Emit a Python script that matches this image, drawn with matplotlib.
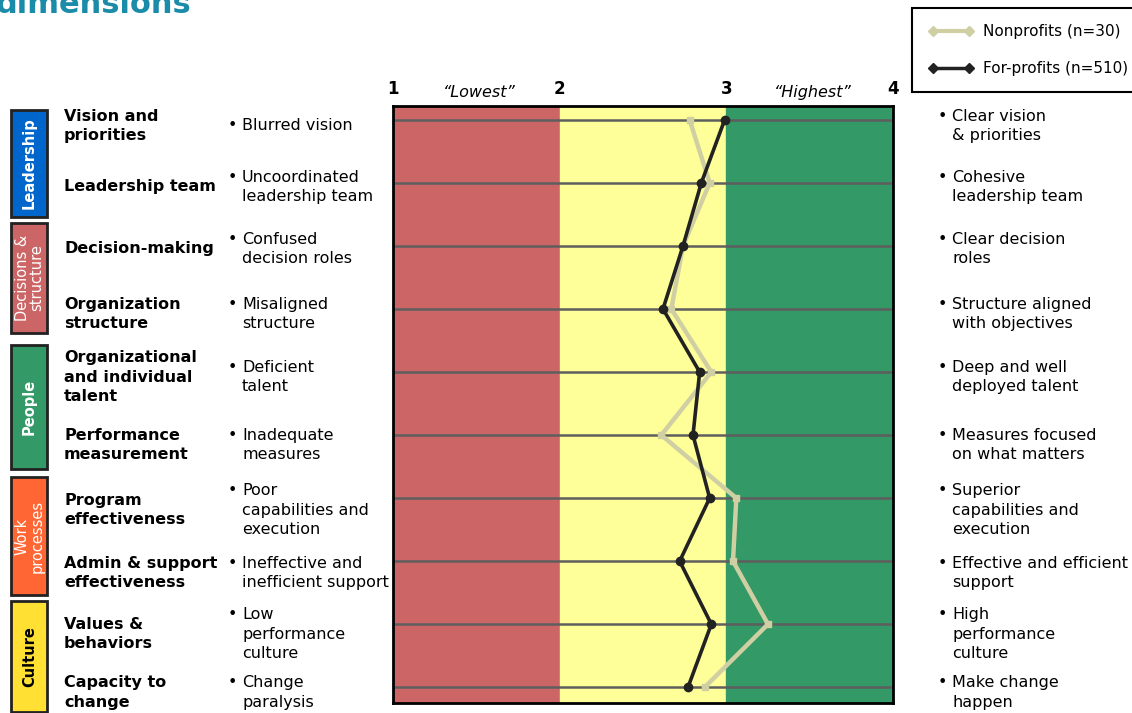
import matplotlib.pyplot as plt
from matplotlib.lines import Line2D
from matplotlib.patches import Rectangle
from matplotlib.transforms import blended_transform_factory

W, H = 1132, 713

dimensions = ["Vision and\npriorities", "Leadership team", "Decision-making",
              "Organization\nstructure", "Organizational\nand individual\ntalent",
              "Performance\nmeasurement", "Program\neffectiveness",
              "Admin & support\neffectiveness", "Values &\nbehaviors", "Capacity to\nchange"]
lowest = ["Blurred vision", "Uncoordinated\nleadership team", "Confused\ndecision roles",
          "Misaligned\nstructure", "Deficient\ntalent", "Inadequate\nmeasures",
          "Poor\ncapabilities and\nexecution", "Ineffective and\ninefficient support",
          "Low\nperformance\nculture", "Change\nparalysis"]
highest = ["Clear vision\n& priorities", "Cohesive\nleadership team", "Clear decision\nroles",
           "Structure aligned\nwith objectives", "Deep and well\ndeployed talent",
           "Measures focused\non what matters", "Superior\ncapabilities and\nexecution",
           "Effective and efficient\nsupport", "High\nperformance\nculture", "Make change\nhappen"]

nonprofits = [2.78, 2.90, 2.74, 2.67, 2.91, 2.61, 3.06, 3.04, 3.25, 2.87]
forprofits = [2.99, 2.85, 2.74, 2.62, 2.84, 2.80, 2.90, 2.72, 2.91, 2.77]

groups = ["Leadership", "Decisions &\nstructure", "People", "Work\nprocesses", "Culture"]
group_colors = ["#0066CC", "#CC6666", "#339966", "#FF6633", "#FFE033"]
group_text = ["white", "white", "white", "white", "black"]
# pixel spans (top, bottom) of the group boxes on the left
group_spans = [(110, 217), (223, 333), (345, 469), (477, 595), (601, 712)]
# text rows sit a few pixels below their grid lines
text_shift = [6, 4, 3, 5, 5, 10, 12, 12, 10, 5]

plt.rcParams['font.family'] = ['DejaVu Sans']
fig = plt.figure(figsize=(W / 100, H / 100), dpi=100)
ax = fig.add_axes([393 / W, 1 - 703 / H, 500 / W, 597 / H])

rows = list(range(len(dimensions)))
px = 1 / 63  # one pixel in row units

ax.axvspan(1, 2, color="#CC6666", zorder=0)
ax.axvspan(2, 3, color="#FFFF99", zorder=0)
ax.axvspan(3, 4, color="#339966", zorder=0)
ax.hlines(rows, 1, 4, color="#5e5e5e", lw=1.8, zorder=1)

ax.plot(nonprofits, rows, color="#CFCFA3", lw=3.2, marker="s", ms=4, zorder=2)
ax.plot(forprofits, rows, color="#222222", lw=2.6, marker="o", ms=6, zorder=3)

ax.set_xlim(1, 4)
ax.set_ylim(9.25, -0.22)
ax.set_yticks([])
ax.set_xticks([1, 2, 3, 4])
ax.xaxis.tick_top()
ax.tick_params(axis="x", length=0, pad=6, labelsize=12)
for lbl in ax.get_xticklabels():
    lbl.set_fontweight("bold")
for s in ax.spines.values():
    s.set_linewidth(2)
    s.set_color("black")

top_tr = blended_transform_factory(ax.transData, ax.transAxes)
ax.text(1.52, 1.01, "\u201cLowest\u201d", style="italic", fontsize=11.5, ha="center", va="bottom",
        transform=top_tr)
ax.text(3.52, 1.01, "\u201cHighest\u201d", style="italic", fontsize=11.5, ha="center", va="bottom",
        transform=top_tr)

LS = 1.38


def bulleted(x, y, s):
    n = s.count("\n")
    ax.text(x / W, y, "\u2022" + "\n " * n, transform=tr, fontsize=11.5, va="center",
            linespacing=LS)
    ax.text((x + 14) / W, y, s, transform=tr, fontsize=11.5, va="center", linespacing=LS)


tr = blended_transform_factory(fig.transFigure, ax.transData)
for i in rows:
    y = i + text_shift[i] * px
    ax.text(64 / W, y, dimensions[i], transform=tr, fontsize=11.5, fontweight="bold",
            va="center", linespacing=LS)
    bulleted(228, y, lowest[i])
    bulleted(938, y, highest[i])

for name, color, tc, (top, bot) in zip(groups, group_colors, group_text, group_spans):
    fig.patches.append(Rectangle((11 / W, 1 - bot / H), 36 / W, (bot - top) / H,
                                 transform=fig.transFigure, facecolor=color,
                                 edgecolor="#222222", lw=2))
    fig.text(29.5 / W, 1 - (top + bot) / 2 / H, name, rotation=90, ha="center", va="center",
             color=tc, fontsize=10.5, fontweight="bold" if "\n" not in name else "normal",
             linespacing=0.95)

fig.text(-4 / W, 1 - 13 / H, "dimensions", color="#1A8BA8", fontsize=22, fontweight="bold",
         va="baseline", ha="left")

handles = [Line2D([], [], color="#CFCFA3", lw=3, marker="D", ms=5),
           Line2D([], [], color="#222222", lw=2.5, marker="D", ms=5)]
leg = fig.legend(handles, ["Nonprofits (n=30)", "For-profits (n=510)"], loc="upper left",
                 bbox_to_anchor=(912 / W, 1 - 8 / H), numpoints=2, handlelength=3.0,
                 fontsize=11, labelspacing=1.45, borderpad=1.05, borderaxespad=0,
                 fancybox=False, edgecolor="black", framealpha=1, handletextpad=0.6)
leg.get_frame().set_linewidth(1.5)

fig.savefig("out.png", dpi=100)
